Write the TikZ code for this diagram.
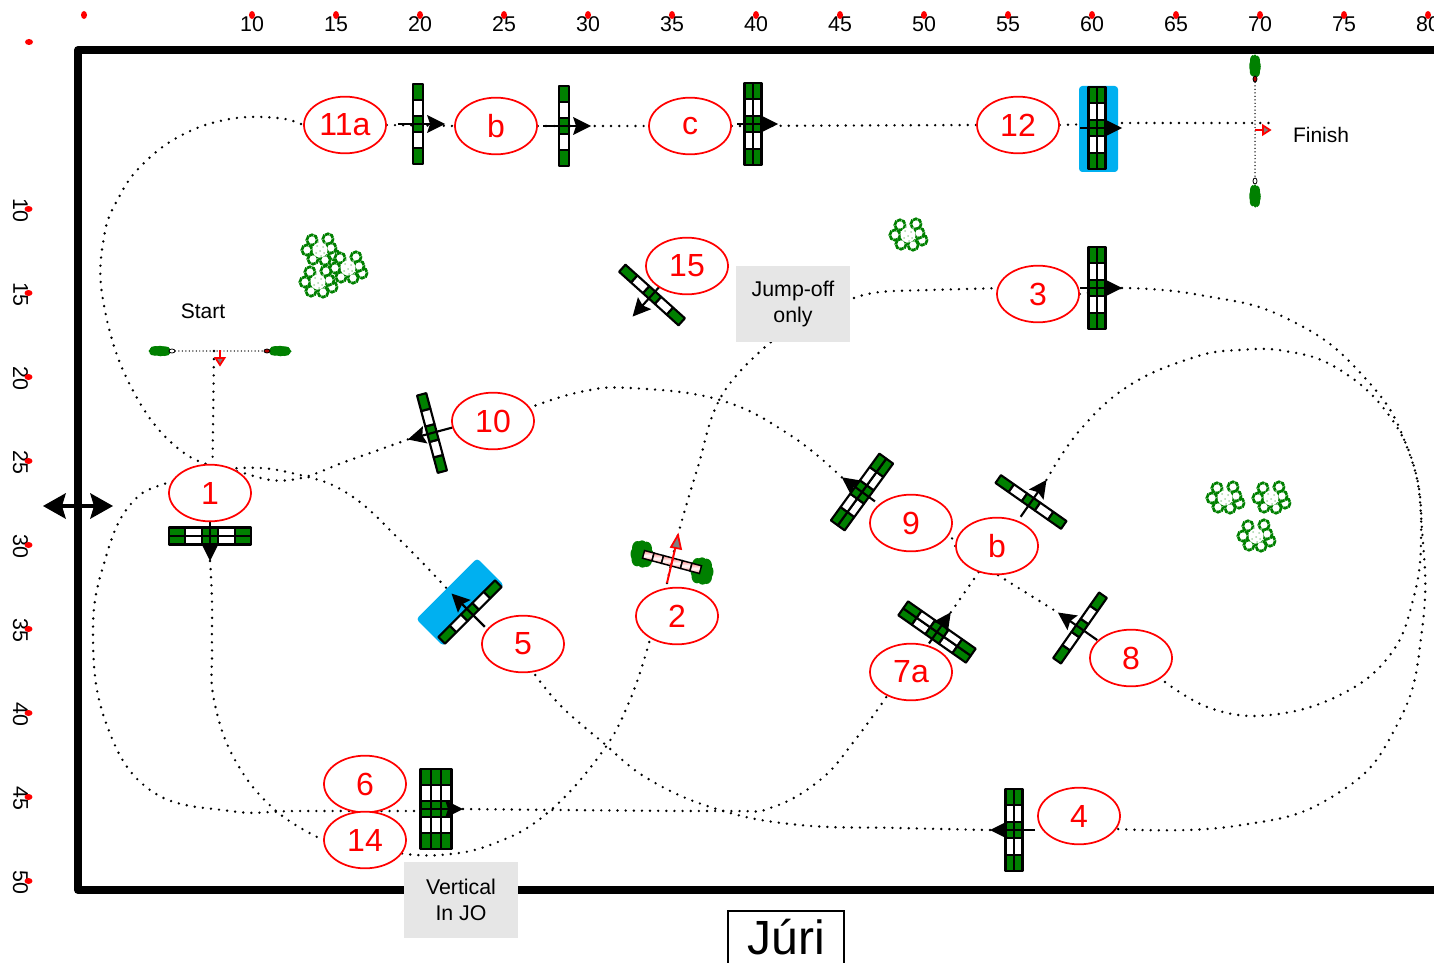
\documentclass[tikz,border=0pt]{standalone}
\usepackage{fontspec}
\setmainfont{Liberation Sans}
\usetikzlibrary{shapes.geometric,backgrounds}
\definecolor{grn}{HTML}{008000}
\definecolor{water}{HTML}{00B0F0}
\definecolor{boxgray}{HTML}{E6E6E6}
\tikzset{
 course/.style={line width=2pt,line cap=round,dash pattern=on 0pt off 6.1pt,black},
 thindots/.style={line width=1.1pt,line cap=round,dash pattern=on 0pt off 2.6pt,black},
 num/.style={ellipse,draw=red,line width=1.3pt,fill=white,minimum width=61.5pt,minimum height=42.5pt,inner sep=0pt,text=red,font=\fontsize{24}{26}\selectfont},
 graybox/.style={fill=boxgray,minimum width=85.5pt,minimum height=57pt,inner sep=0pt,align=center,font=\fontsize{16}{19.5}\selectfont},
 plain/.style={inner sep=0pt,font=\fontsize{15.75}{19}\selectfont},
 tick/.style={inner sep=0pt,font=\fontsize{16}{19}\selectfont},
 cell/.style={draw=black,line width=1.6pt,line join=round},
 treeline/.style={draw=grn,line width=2pt,dash pattern=on 3.4pt off .5pt},
}
% x y angle rails name tail tip
\newcommand\fence[7]{%
 \begin{scope}[shift={(#1,#2)},rotate=#3]
  \pgfmathsetmacro\wid{#4==1?9.5:(#4==2?8.5:10.3)}
  \pgfmathsetmacro\cel{#4==2?16.5:16}
  \pgfmathsetmacro\tot{#4*\wid}
  \pgfmathtruncatemacro\rlast{#4-1}
  \foreach \r in {0,...,\rlast}{
   \foreach \k/\c in {0/grn,1/white,2/grn,3/white,4/grn}{
    \path[cell,fill=\c] ({-\tot/2+\r*\wid},{-2.5*\cel+\k*\cel}) rectangle ++(\wid,\cel);
   }
  }
  \draw[line width=1.6pt,black] (-#6,0) -- (#7-12,0);
  \fill[black] (#7,0) -- (#7-18,-9) -- (#7-15,0) -- (#7-18,9) -- cycle;
  \coordinate (#5-tip) at (#7,0);
  \coordinate (#5-tail) at (-#6,0);
 \end{scope}}
\newcommand\tree[2]{%
 \begin{scope}[shift={(#1,#2)}]
  \foreach \a/\b in {-8/-9,8/-10,-13/1,-7/10,5/11,14/6,11/-1}{
   \draw[treeline,fill=white] (\a,\b) circle [radius=5.2];
  }
  \fill[white] (0,1) circle [radius=7.5];
  \foreach \a/\b in {-3/-3,3/-2,0/2,-4/4,4/4,1/7,-2/-7,5/-6}{
   \fill[grn!35] (\a,\b) circle [radius=1];
  }
 \end{scope}}
\newcommand\blob[4]{%
 \foreach \u/\v in {-.45/-.45,.45/-.4,-.5/.4,.45/.45,0/0,0/-.5,.05/.5,-.6/0,.6/.05}{
  \fill[grn] ({#1+\u*#3},{#2+\v*#4}) ellipse [x radius={.55*#3},y radius={.55*#4}];
 }}
\begin{document}
\begin{tikzpicture}[x=0.75pt,y=-0.75pt]
\useasboundingbox (0,0) rectangle (1434,963);
% border
\draw[black,line width=6pt,line join=round] (1440,50) -- (78,50) -- (78,890) -- (1440,890);
% ruler
\fill[red] (84,15) ellipse [x radius=3,y radius=4];
\fill[red] (29,42) ellipse [x radius=4,y radius=3];
\foreach \t in {10,15,...,80}{
 \pgfmathsetmacro\xx{252+(\t-10)*16.8}
 \node[tick] (top\t) at (\xx,24.5) {\t};
 \fill[red] (\xx,15) ellipse [x radius=3,y radius=4];
}
\foreach \t in {10,15,...,50}{
 \pgfmathsetmacro\yy{210.5+(\t-10)*16.8}
 \node[tick,rotate=-90] (left\t) at (20.5,\yy) {\t};
 \fill[red] (28.5,{\yy-1.5}) ellipse [x radius=4,y radius=3];
}
\coordinate (startpt) at (214,351);
\coordinate (finishend) at (1275,123);
\coordinate (finishstart) at (1122,123);
\coordinate (sixin) at (420,811);
% fences
\fence{418}{124}{0}{1}{fa}{20}{27}
\fence{564}{126}{0}{1}{fb}{21}{27}
\fence{753}{124}{0}{2}{fc}{16}{25}
\fence{1097}{128}{0}{2}{fd}{17}{25}
\fence{1097}{288}{0}{2}{fe}{17}{25}
\fence{1014}{830}{180}{2}{ff}{21}{24}
\fence{436}{809}{0}{3}{fg}{16}{27}
\fence{210}{536}{-90}{2}{fh}{21}{25}
\fence{432}{433}{195}{1}{fi}{21}{25}
\fence{652}{295}{228}{1}{fj}{12}{29}
\fence{470}{612}{135}{1}{fk}{21}{26}
\fence{862}{492}{144}{2}{fl}{16}{25}
\fence{1031}{502}{55}{1}{fm}{18}{27}
\fence{937}{632}{55}{2}{fn}{14}{24}
\fence{1080}{628}{145}{1}{fo}{21}{27}
% pink fence 2
\blob{642}{554}{10}{13}
\blob{702}{571}{10}{13}
\begin{scope}[shift={(672,562)},rotate=-15]
 \foreach \k in {0,...,5}{
  \draw[black,line width=1.1pt,top color=red!45,bottom color=red!45,middle color=white] ({-29.5+\k*9.83},-4) rectangle ++(9.83,8);
 }
\end{scope}
\coordinate (rt) at (678,535);
\coordinate (rs) at (667,583);
\draw[red,line width=1.5pt] (rs) -- (676,545);
\draw[red,line width=1.3pt,fill=gray] (rt) -- (671,547) -- (681,549) -- cycle;
% start line
\draw[thindots] (172,351) -- (267,351);
\blob{160}{351}{10}{5}
\blob{280}{351}{10}{5}
\draw[black,fill=white,line width=.6pt] (172,351) ellipse [x radius=3,y radius=2];
\draw[black,fill=red!70!black,line width=.6pt] (267,351) ellipse [x radius=3,y radius=2];
\draw[red,line width=1.5pt] (220,350) -- (220,358);
\draw[red,line width=1.3pt,fill=gray] (220,365) -- (215.5,358) -- (224.5,358) -- cycle;
% finish line
\draw[thindots] (1255,79) -- (1255,181);
\blob{1255}{66}{5}{11}
\blob{1255}{196}{5}{11}
\draw[black,fill=red!70!black,line width=.6pt] (1255,79) ellipse [x radius=2,y radius=3];
\draw[black,fill=white,line width=.6pt] (1255,181) ellipse [x radius=2,y radius=3];
\draw[red,line width=1.5pt] (1255,130) -- (1264,130);
\draw[red,line width=1.3pt,fill=gray] (1270,130) -- (1263,125.5) -- (1263,134.5) -- cycle;
% trees
\tree{320}{249}
\tree{318}{281}
\tree{348}{267}
\tree{908}{234}
\tree{1225}{497}
\tree{1271}{497}
\tree{1256}{535}
% numbered ellipses
\node[num] (n11a) at (345,125) {11a};
\node[num] (nb1) at (496,126) {b};
\node[num] (nc) at (690,126) {c};
\node[num] (n12) at (1018,125) {12};
\node[num] (n15) at (687,266) {15};
\node[num] (n3) at (1038,294) {3};
\node[num] (n10) at (493,421) {10};
\node[num] (n1) at (210,493) {1};
\node[num] (n9) at (911,523) {9};
\node[num] (nb2) at (997,546) {b};
\node[num] (n2) at (677,616) {2};
\node[num] (n5) at (523,644) {5};
\node[num] (n7a) at (911,672) {7a};
\node[num] (n8) at (1131,658) {8};
\node[num] (n6) at (365,784) {6};
\node[num] (n14) at (365,840) {14};
\node[num] (n4) at (1079,816) {4};
% grey boxes
\node[graybox] (jump) at (793,304) {Jump-off\\only};
\node[graybox] (vert) at (461,900) {Vertical\\In JO};
% labels
\node[plain] (startl) at (203,311) {Start};
\node[plain] (finl) at (1321,135) {Finish};
% double arrow
\coordinate (dl) at (43,506);
\coordinate (dr) at (113,506);
\draw[black,line width=3pt] (60,506) -- (96,506);
\fill[black] (dl) -- (66,493) -- (62,506) -- (66,519) -- cycle;
\fill[black] (dr) -- (90,493) -- (94,506) -- (90,519) -- cycle;
% jury
\draw[black,line width=.9pt,fill=white] (728,975) -- (728,911) -- (844,911) -- (844,975);
\node[inner sep=0pt,font=\fontsize{36}{40}\selectfont] (juri) at (786,937) {Júri};
% course, behind all
\begin{pgfonlayer}{background}
\draw[course] (startpt) -- (n1.85);
\draw[course] plot[smooth,tension=.7] coordinates {(fh-tip) (212,600) (212,650) (214,700) (235,760) (275,810) (n14.west)};
\draw[course] plot[smooth,tension=.7] coordinates {(n14.-20) (440,855) (490,845) (545,815) (600,755) (630,700) (n2.-140)};
\draw[course] plot[smooth,tension=.7] coordinates {(rs) (rt) (697,470) (722,395) (771,342)};
\draw[course] plot[smooth,tension=.7] coordinates {(854,298) (880,292) (930,290) (n3.172)};
\draw[course] plot[smooth,tension=.8] coordinates {(fe-tip) (1200,295) (1290,320) (1365,378) (1408,450) (1422,530) (1422,630) (1397,725) (1335,795) (1235,826) (n4.-19)};
\draw[course] plot[smooth,tension=.7] coordinates {(ff-tip) (900,828) (800,825) (720,810) (650,780) (600,740) (560,705) (n5.-70)};
\draw[course] plot[smooth,tension=.7] coordinates {(fk-tip) (400,540) (350,495) (300,475) (240,468) (170,482) (130,505) (105,560) (93,630) (105,720) (150,790) (230,811) (300,811) (sixin)};
\draw[course] plot[smooth,tension=.7] coordinates {(fg-tip) (720,811) (770,808) (820,780) (855,740) (n7a.-135)};
\draw[course] (fn-tip) -- (nb2.-125);
\draw[course] (nb2.-88) -- (fo-tip);
\draw[course] plot[smooth,tension=.7] coordinates {(fm-tip) (1080,430) (1130,385) (1195,357) (1240,350) (1285,351) (1335,367) (1385,410) (1415,470) (1421,540) (1413,600) (1390,655) (1340,695) (1270,715) (1210,708) (n8.-35)};
\draw[course] (nb2.west) -- (n9.-15);
\draw[course] plot[smooth,tension=.7] coordinates {(fl-tip) (790,435) (720,400) (630,388) (580,392) (n10.20)};
\draw[course] plot[smooth,tension=.7] coordinates {(fi-tip) (350,460) (290,480) (240,472) (180,450) (130,385) (103,300) (104,237) (119,197) (143,164) (182,135) (230,119) (278,118) (n11a.west)};
\draw[course] (n11a.east) -- (nb1.west);
\draw[course] (nb1.east) -- (nc.west);
\draw[course] (nc.east) -- (n12.west);
\draw[course] (n12.east) -- (finishstart);
\draw[course] (finishstart) -- (finishend);
\draw[course] (n3.east) -- (fe-tip);
% water over the course
\begin{scope}[shift={(1097,128)}]
 \fill[water,rounded corners=2.5pt] (-18,-42) rectangle (21,44);
\end{scope}
\begin{scope}[shift={(470,612)},rotate=135]
 \fill[water,rounded corners=2.5pt] (-5,-43) rectangle (33,43);
\end{scope}
\end{pgfonlayer}
\end{tikzpicture}
\end{document}
